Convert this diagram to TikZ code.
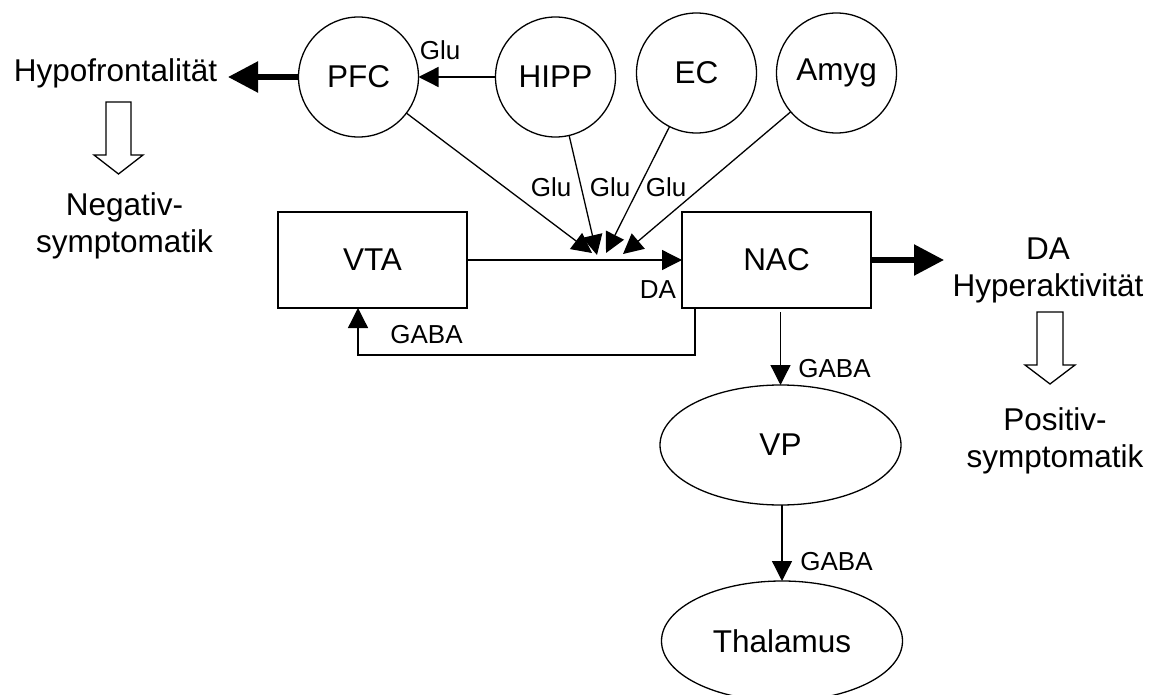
\documentclass[tikz,border=0pt]{standalone}
\usepackage{fontspec}
\setmainfont{Liberation Sans}
\usetikzlibrary{arrows.meta,shapes.geometric}
\begin{document}
\begin{tikzpicture}[x=1pt,y=-1pt,
  every node/.style={inner sep=0pt, outer sep=0pt},
  bigfont/.style={font=\fontsize{31.5}{37}\selectfont},
  region/.style={draw, circle, line width=1.3pt, minimum size=120pt, bigfont},
  box/.style={draw, rectangle, line width=1.3pt, minimum width=189pt, minimum height=96pt, bigfont},
  oval/.style={draw, ellipse, line width=1.3pt, minimum width=241pt, minimum height=120pt, bigfont},
  bigtxt/.style={bigfont, align=center, anchor=base},
  lbl/.style={font=\fontsize{26}{30}\selectfont, anchor=base},
  arr/.style={line width=1.3pt, -{Triangle[length=20pt,width=20pt]}},
  thickarr/.style={line width=5.5pt, -{Triangle[length=30pt,width=30pt]}},
  hollow/.style={draw, line width=1.3pt, fill=white, line join=miter}
]
\useasboundingbox (0,0) rectangle (1151,695);
\clip (0,0) rectangle (1151,695);

% nodes
\node[region] (pfc)  at (358.5,77) {PFC};
\node[region] (hipp) at (555.5,77) {HIPP};
\node[region] (ec)   at (696.5,73) {EC};
\node[region] (amyg) at (836.5,73) {Amyg};

\node[box] (vta) at (372.5,260) {VTA};
\node[box] (nac) at (776.5,260) {NAC};

\node[oval] (vp)   at (780.5,445) {VP};
\node[oval] (thal) at (782,641) {Thalamus};

% multi-line nodes: base anchor = baseline of last line
\node[bigtxt] (hypo)  at (115.5,82) {Hypofrontalität};
\node[bigtxt] (neg)   at (124.5,252) {Negativ-\\symptomatik};
\node[bigtxt] (hyper) at (1048,296) {DA\\Hyperaktivität};
\node[bigtxt] (pos)   at (1055,467) {Positiv-\\symptomatik};

% free arrow ends
\coordinate (hypotip) at (228,77);
\coordinate (datip) at (944,260);
\coordinate (t1) at (592,253);
\coordinate (t2) at (597,255);
\coordinate (t3) at (606,253);
\coordinate (t4) at (623,254);

% connectors
\draw[arr] (hipp) -- (pfc);
\draw[thickarr] (pfc.west) -- (hypotip);
\draw[arr] (pfc) -- (t1);
\draw[arr] (hipp) -- (t2);
\draw[arr] (ec) -- (t3);
\draw[arr] (amyg) -- (t4);
\draw[arr] (vta) -- (nac);
\draw[thickarr] (nac.east) -- (datip);
\draw[arr] ([xshift=13pt]nac.south west) -- ++(0,47) -| ([xshift=80pt]vta.south west);
\draw[arr] (nac.south -| vp.north) ++(0,4) -- (vp.north);
\draw[arr] (vp.south -| thal.north) -- (thal.north);

% hollow arrows
\draw[hollow] (106,102) -- (131,102) -- (131,155) -- (143,155) -- (118.5,174) -- (94,155) -- (106,155) -- cycle;
\draw[hollow] (1037,312) -- (1063,312) -- (1063,365) -- (1075,365) -- (1050,384) -- (1025,365) -- (1037,365) -- cycle;

% labels
\node[lbl] (g0) at (440,60) {Glu};
\node[lbl] (g1) at (551,197) {Glu};
\node[lbl] (g2) at (610,197) {Glu};
\node[lbl] (g3) at (666,197) {Glu};
\node[lbl] (da) at (658,298) {DA};
\node[lbl] (gaba1) at (426.5,343) {GABA};
\node[lbl] (gaba2) at (834.5,377) {GABA};
\node[lbl] (gaba3) at (836.5,570) {GABA};
\end{tikzpicture}
\end{document}
